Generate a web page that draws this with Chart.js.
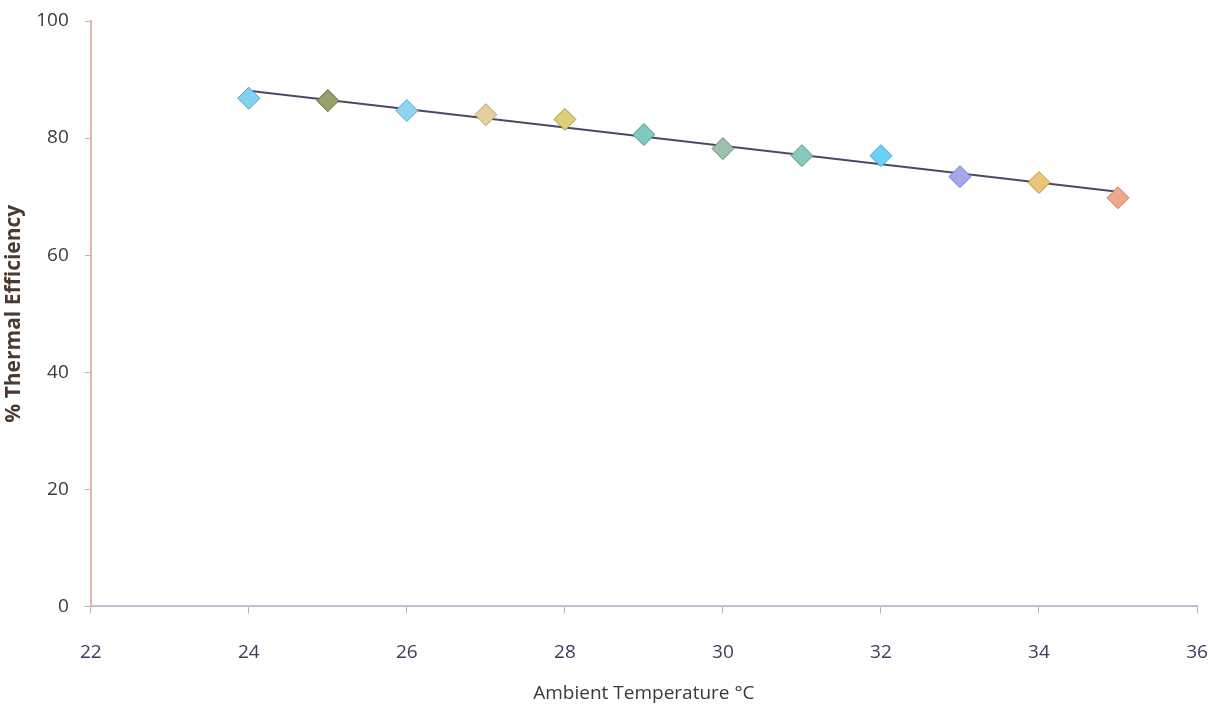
<!DOCTYPE html>
<html>
<head>
<meta charset="utf-8">
<script src="https://cdn.jsdelivr.net/npm/chart.js@4"></script>
<style>
  html, body { margin: 0; padding: 0; background: #fff; }
  #wrap { width: 1214px; height: 709px; }
</style>
</head>
<body>
<div id="wrap"><canvas id="myChart"></canvas></div>
<script>
// data
var temps = [24, 25, 26, 27, 28, 29, 30, 31, 32, 33, 34, 35];
var efficiency = [86.8, 86.4, 84.7, 84.0, 83.2, 80.6, 78.2, 77.0, 77.0, 73.4, 72.4, 69.8];
var markerColors = ['#7fd3f0', '#9aa06a', '#8fd4ee', '#e3cfa0', '#dccf78', '#7fc9c0',
                    '#9cc0a8', '#88c8bc', '#6cd0f4', '#a7a8e8', '#eac47a', '#eea88a'];
var markerEdges = ['#5a9cc0', '#5a6040', '#5aa8d0', '#b8a070', '#a89a40', '#4a9a90',
                   '#6a907a', '#5a9a8c', '#40a8d8', '#7a7ac8', '#c0944a', '#d07a60'];
var xTicks = [22, 24, 26, 28, 30, 32, 34, 36];
var yTicks = [0, 20, 40, 60, 80, 100];

// linear trend line through the points
var n = temps.length, sx = 0, sy = 0, sxy = 0, sxx = 0;
for (var i = 0; i < n; i++) {
  sx += temps[i]; sy += efficiency[i];
  sxy += temps[i] * efficiency[i]; sxx += temps[i] * temps[i];
}
var slope = (n * sxy - sx * sy) / (n * sxx - sx * sx);
var icpt = (sy - slope * sx) / n;
var trendX = [temps[0], temps[n - 1]];

var ctx = document.getElementById('myChart');

new Chart(ctx, {
  type: 'scatter',
  data: {
    datasets: [{
      type: 'line',
      data: trendX.map(function (x) { return { x: x, y: icpt + slope * x }; }),
      borderColor: '#4a4a66',
      borderWidth: 2,
      pointRadius: 0,
      order: 2
    }, {
      data: temps.map(function (t, i) { return { x: t, y: efficiency[i] }; }),
      pointStyle: 'rectRot',
      pointRadius: 11,
      pointHoverRadius: 11,
      backgroundColor: markerColors,
      borderColor: markerEdges,
      borderWidth: 1,
      order: 1
    }]
  },
  options: {
    responsive: true,
    maintainAspectRatio: false,
    animation: false,
    layout: { autoPadding: false, padding: { top: 0, right: 0, left: 1, bottom: 4 } },
    plugins: {
      legend: { display: false },
      tooltip: { enabled: false }
    },
    scales: {
      x: {
        type: 'linear',
        min: 22,
        max: 36,
        afterBuildTicks: function (axis) {
          axis.ticks = xTicks.map(function (v) { return { value: v }; });
        },
        afterFit: function (axis) {
          axis.paddingRight = 17;
          axis.paddingLeft = 0;
        },
        grid: { drawOnChartArea: false, tickLength: 7, color: '#b8b0c8' },
        border: { color: '#c8bcd0', width: 2 },
        ticks: {
          color: '#3c3c5c',
          padding: 28,
          font: { family: 'Open Sans', size: 19 }
        },
        title: {
          display: true,
          text: 'Ambient Temperature °C',
          color: '#3a3a3a',
          padding: { top: -10, bottom: 0 },
          font: { family: 'Open Sans', size: 19 }
        }
      },
      y: {
        min: 0,
        max: 100,
        afterBuildTicks: function (axis) {
          axis.ticks = yTicks.map(function (v) { return { value: v }; });
        },
        afterFit: function (axis) {
          axis.paddingTop = 21;
          axis.paddingBottom = 0;
        },
        grid: { drawOnChartArea: false, tickLength: 6, color: '#c0b0b8' },
        border: { color: '#e0b8a8', width: 2 },
        ticks: {
          color: '#3c3c3c',
          padding: 16,
          font: { family: 'Open Sans', size: 19 }
        },
        title: {
          display: true,
          text: '% Thermal Efficiency',
          color: '#4a3a30',
          padding: { top: 0, bottom: -6 },
          font: { family: 'Open Sans', size: 21, weight: 'bold' }
        }
      }
    }
  }
});
</script>
</body>
</html>
